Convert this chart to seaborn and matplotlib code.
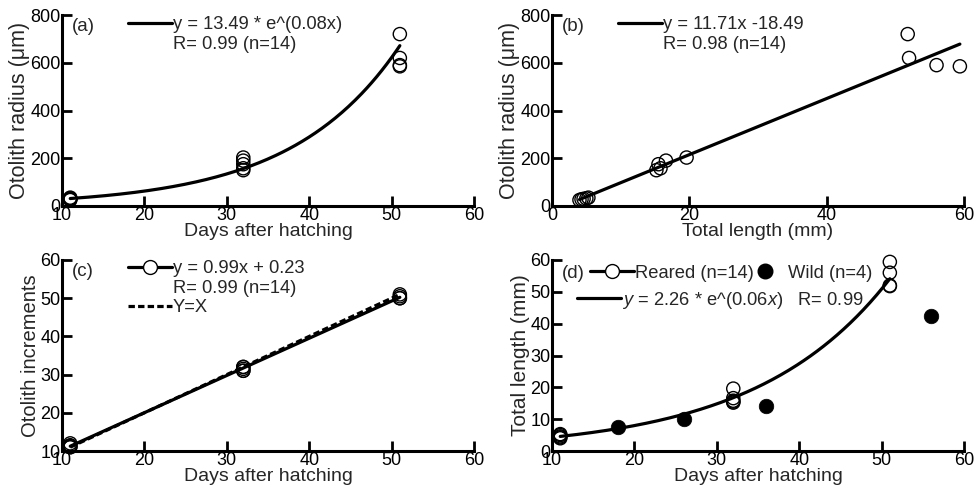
import numpy as np
import pandas as pd
import matplotlib
matplotlib.use("Agg")
import matplotlib.pyplot as plt
from matplotlib.lines import Line2D
import seaborn as sns

# ---------------- data ----------------
days = [11, 11, 11, 11, 11, 32, 32, 32, 32, 32, 51, 51, 51, 51]
otolith_radius_um = [25, 28, 30, 32, 35, 150, 158, 175, 190, 203, 720, 620, 590, 585]
total_length_mm = [4.0, 4.3, 4.6, 5.0, 5.3, 15.2, 15.8, 15.5, 16.6, 19.6, 51.8, 52.0, 56.0, 59.4]
otolith_increments = [11, 11.5, 12, 11, 11.3, 31, 32, 31.5, 31, 32, 50, 51, 50.5, 50]
wild_days = [18, 26, 36, 56]
wild_total_length_mm = [7.5, 10, 14, 42.5]

label_a = "y = 13.49 * e^(0.08x)"
label_b = "y = 11.71x -18.49"
label_c = "y = 0.99x + 0.23"
label_d = "$y$ = 2.26 * e^(0.06$x$)   R= 0.99"

reared = pd.DataFrame({"days": days, "radius": otolith_radius_um,
                       "tl": total_length_mm, "inc": otolith_increments})
wild = pd.DataFrame({"days": wild_days, "tl": wild_total_length_mm})

# fitted curves from the data
xd = np.linspace(min(days), max(days), 200)
ka, la = np.polyfit(reared["days"], np.log(reared["radius"]), 1)
fit_a = pd.DataFrame({"x": xd, "y": np.exp(la) * np.exp(ka * xd)})
mb, cb = np.polyfit(reared["tl"], reared["radius"], 1)
xt = np.linspace(min(total_length_mm), max(total_length_mm), 200)
fit_b = pd.DataFrame({"x": xt, "y": mb * xt + cb})
mc, cc = np.polyfit(reared["days"], reared["inc"], 1)
fit_c = pd.DataFrame({"x": xd, "y": mc * xd + cc})
ident = pd.DataFrame({"x": xd, "y": xd})
kd, ld = np.polyfit(reared["days"], np.log(reared["tl"]), 1)
fit_d = pd.DataFrame({"x": xd, "y": np.exp(ld) * np.exp(kd * xd)})

# ---------------- style ----------------
sns.set_style("ticks")
plt.rcParams["font.family"] = ["Liberation Sans", "DejaVu Sans"]
plt.rcParams["mathtext.fontset"] = "custom"
plt.rcParams["mathtext.rm"] = "Liberation Sans"
plt.rcParams["mathtext.it"] = "Liberation Sans:italic"

fig = plt.figure(figsize=(9.79, 4.97), dpi=100)
W, H = 979, 497
def axes_px(l, t, r, b):
    return fig.add_axes([l / W, 1 - b / H, (r - l) / W, (b - t) / H])

ax_a = axes_px(62, 15, 474, 206)
ax_b = axes_px(552, 15, 964, 206)
ax_c = axes_px(62, 260, 474, 451)
ax_d = axes_px(552, 260, 964, 451)

LW = 2.3
MS = 90
LEG_FS = 13.2

def style(ax, xlim, ylim, xt_, yt_, xlabel, ylabel, ylabel_fs):
    ax.set_xlim(*xlim)
    ax.set_ylim(*ylim)
    ax.set_xticks(xt_)
    ax.set_yticks(yt_)
    ax.tick_params(direction="in", length=7, width=2.0, labelsize=13, pad=1, colors="black")
    for s in ["top", "right"]:
        ax.spines[s].set_visible(False)
    for s in ["left", "bottom"]:
        ax.spines[s].set_linewidth(2.2)
        ax.spines[s].set_color("black")
    ax.set_xlabel(xlabel, fontsize=14, labelpad=-1)
    ax.set_ylabel(ylabel, fontsize=ylabel_fs, labelpad=0)

def open_pts(ax, x, y, data):
    sns.scatterplot(data=data, x=x, y=y, ax=ax, s=MS, marker="o",
                    facecolors="none", edgecolor="black", linewidth=1.0,
                    clip_on=False, zorder=3, legend=False)

blank = Line2D([], [], color="none")
leg_kw = dict(frameon=False, fontsize=LEG_FS, handlelength=2.4, handletextpad=0.05,
              labelspacing=0.15, borderpad=0, borderaxespad=0, loc="upper left")

# (a)
sns.lineplot(data=fit_a, x="x", y="y", ax=ax_a, color="black", lw=LW)
open_pts(ax_a, "days", "radius", reared)
style(ax_a, (10, 60), (0, 800), range(10, 61, 10), range(0, 801, 200),
      "Days after hatching", "Otolith radius (μm)", 15.5)
ax_a.text(0.025, 0.985, "(a)", transform=ax_a.transAxes, fontsize=13.5, va="top")
ax_a.legend([Line2D([], [], color="black", lw=LW), blank],
            [label_a, "R= 0.99 (n=14)"], bbox_to_anchor=(0.16, 0.995), **leg_kw)

# (b)
sns.lineplot(data=fit_b, x="x", y="y", ax=ax_b, color="black", lw=LW)
open_pts(ax_b, "tl", "radius", reared)
style(ax_b, (0, 60), (0, 800), range(0, 61, 20), range(0, 801, 200),
      "Total length (mm)", "Otolith radius (μm)", 15.5)
ax_b.text(0.025, 0.985, "(b)", transform=ax_b.transAxes, fontsize=13.5, va="top")
ax_b.legend([Line2D([], [], color="black", lw=LW), blank],
            [label_b, "R= 0.98 (n=14)"], bbox_to_anchor=(0.16, 0.995), **leg_kw)

# (c)
sns.lineplot(data=ident, x="x", y="y", ax=ax_c, color="black", lw=LW, linestyle=(0, (2, 1)))
sns.lineplot(data=fit_c, x="x", y="y", ax=ax_c, color="black", lw=LW)
open_pts(ax_c, "days", "inc", reared)
style(ax_c, (10, 60), (10, 60), range(10, 61, 10), range(10, 61, 10),
      "Days after hatching", "Otolith increments", 14.5)
ax_c.text(0.025, 0.985, "(c)", transform=ax_c.transAxes, fontsize=13.5, va="top")
ax_c.legend([Line2D([], [], color="black", lw=LW, marker="o", markersize=10,
                    markerfacecolor="white", markeredgecolor="black", markeredgewidth=1.0),
             blank,
             Line2D([], [], color="black", lw=LW, linestyle=(0, (2, 1)))],
            [label_c, "R= 0.99 (n=14)", "Y=X"], bbox_to_anchor=(0.16, 1.0), **leg_kw)

# (d)
sns.lineplot(data=fit_d, x="x", y="y", ax=ax_d, color="black", lw=LW)
open_pts(ax_d, "days", "tl", reared)
sns.scatterplot(data=wild, x="days", y="tl", ax=ax_d, s=110, marker="o",
                color="black", edgecolor="black", linewidth=0.5, zorder=3,
                clip_on=False, legend=False)
style(ax_d, (10, 60), (0, 60), range(10, 61, 10), range(0, 61, 10),
      "Days after hatching", "Total length (mm)", 15)
ax_d.text(0.025, 0.975, "(d)", transform=ax_d.transAxes, fontsize=13.5, va="top")
leg1 = ax_d.legend([Line2D([], [], color="black", lw=LW, marker="o", markersize=10,
                           markerfacecolor="white", markeredgecolor="black",
                           markeredgewidth=1.0),
                    Line2D([], [], color="none", marker="o", markersize=10.5,
                           markerfacecolor="black", markeredgecolor="black")],
                   ["Reared (n=14)", "Wild (n=4)"], ncol=2,
                   bbox_to_anchor=(0.092, 0.975), columnspacing=-0.6,
                   **{k: v for k, v in leg_kw.items()})
ax_d.add_artist(leg1)
ax_d.legend([Line2D([], [], color="black", lw=LW)], [label_d],
            bbox_to_anchor=(0.06, 0.845), **leg_kw)

fig.savefig("out.png", dpi=100)
